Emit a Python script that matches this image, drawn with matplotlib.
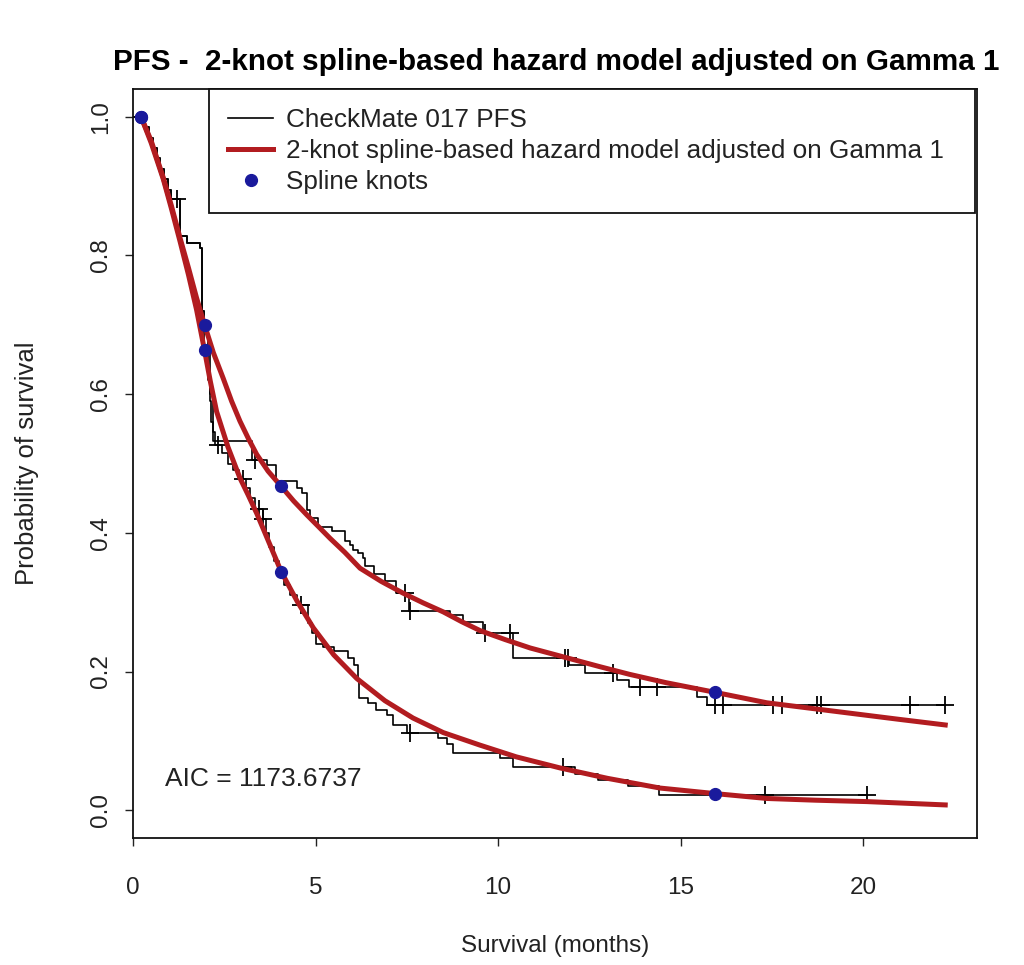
import matplotlib
matplotlib.use("Agg")
import matplotlib.pyplot as plt
from matplotlib.lines import Line2D

plt.rcParams['font.family'] = ['Liberation Sans', 'DejaVu Sans']

# ---- Kaplan-Meier curves (CheckMate 017 PFS) ----
km1_t = [0, 0.3, 0.45, 0.55, 0.65, 0.75, 0.85, 0.95, 1.05, 1.29, 1.48, 1.84, 1.88, 1.95, 2.05, 2.12, 2.2,
         3.26, 3.66, 3.93, 4.48, 4.62, 4.76, 4.85, 5.08, 5.44, 5.81, 5.95, 6.04, 6.17, 6.31, 6.36, 6.6, 6.9,
         7.2, 7.55, 8.68, 9.05, 9.6, 10.4, 11.95, 12.38, 13.25, 13.6, 15.45, 15.72, 22.25]
km1_s = [1.0, 0.985, 0.97, 0.955, 0.94, 0.925, 0.91, 0.895, 0.882, 0.828, 0.818, 0.811, 0.72, 0.70, 0.66, 0.60, 0.532,
         0.505, 0.498, 0.475, 0.465, 0.457, 0.433, 0.421, 0.409, 0.402, 0.388, 0.383, 0.375, 0.371, 0.364, 0.352, 0.34, 0.33,
         0.313, 0.287, 0.282, 0.272, 0.255, 0.219, 0.21, 0.198, 0.188, 0.178, 0.164, 0.152, 0.152]
cens1_t = [1.2, 3.34, 7.45, 7.59, 9.64, 10.33, 11.84, 11.92, 13.16, 13.89, 14.35, 15.95, 16.17, 17.54, 17.77,
           18.73, 18.86, 21.29, 22.25]
cens1_s = [0.882, 0.505, 0.313, 0.287, 0.255, 0.255, 0.219, 0.219, 0.198, 0.178, 0.178, 0.152, 0.152, 0.152, 0.152,
           0.152, 0.152, 0.152, 0.152]

km2_t = [0, 0.3, 0.45, 0.55, 0.65, 0.75, 0.85, 0.95, 1.05, 1.29, 1.48, 1.84, 1.88, 1.95, 2.05, 2.1, 2.15, 2.2, 2.25,
         2.45, 2.6, 2.75, 2.9, 3.1, 3.2, 3.35, 3.55, 3.65, 3.72, 3.85, 4.0, 4.15, 4.3, 4.5, 4.8, 4.9, 5.0, 5.2, 5.5, 5.9,
         6.05, 6.15, 6.2, 6.45, 6.67, 6.95, 7.13, 7.5, 8.35, 8.6, 8.77, 10.05, 10.4, 12.1, 12.75, 13.56, 14.4, 20.1]
km2_s = [1.0, 0.985, 0.97, 0.955, 0.94, 0.925, 0.91, 0.895, 0.882, 0.828, 0.818, 0.811, 0.72, 0.663, 0.62, 0.59, 0.56,
         0.545, 0.527, 0.515, 0.50, 0.49, 0.478, 0.465, 0.45, 0.435, 0.42, 0.40, 0.38, 0.36, 0.345, 0.325, 0.31, 0.296,
         0.27, 0.255, 0.24, 0.236, 0.229, 0.219, 0.21, 0.186, 0.162, 0.154, 0.145, 0.137, 0.123, 0.111, 0.104, 0.096,
         0.082, 0.075, 0.063, 0.053, 0.044, 0.035, 0.022, 0.022]
cens2_t = [2.34, 3.0, 3.45, 3.55, 4.6, 7.59, 11.79, 17.32, 20.1]
cens2_s = [0.527, 0.478, 0.435, 0.42, 0.296, 0.111, 0.063, 0.022, 0.022]

# ---- fitted 2-knot spline hazard model curves ----
fit1_t = [0.22, 0.5, 0.83, 1.05, 1.29, 1.52, 1.74, 1.96, 2.2, 2.47, 2.7, 2.93, 3.16, 3.39, 3.7, 4.06, 4.4, 4.76,
          5.1, 5.4, 5.8, 6.22, 6.8, 7.4, 7.95, 8.5, 9.0, 9.51, 10.2, 10.88, 11.8, 12.79, 13.6, 14.6, 15.95, 17.36,
          19.18, 21.0, 22.25]
fit1_s = [1.0, 0.965, 0.912, 0.872, 0.825, 0.782, 0.739, 0.70, 0.66, 0.623, 0.59, 0.561, 0.536, 0.513, 0.489, 0.467,
          0.446, 0.426, 0.408, 0.392, 0.372, 0.349, 0.33, 0.313, 0.299, 0.286, 0.272, 0.259, 0.246, 0.234, 0.221,
          0.207, 0.196, 0.184, 0.170, 0.155, 0.143, 0.131, 0.123]
fit2_t = [0.22, 0.5, 0.83, 1.05, 1.29, 1.52, 1.74, 1.96, 2.12, 2.29, 2.6, 2.93, 3.16, 3.39, 3.75, 4.06, 4.5, 4.94,
          5.5, 6.13, 6.9, 7.67, 8.5, 9.5, 10.5, 11.7, 13.0, 14.44, 15.95, 17.36, 18.7, 20.1, 22.25]
fit2_s = [1.0, 0.962, 0.91, 0.868, 0.82, 0.772, 0.722, 0.663, 0.618, 0.575, 0.524, 0.479, 0.454, 0.428, 0.383, 0.344,
          0.301, 0.263, 0.224, 0.19, 0.158, 0.133, 0.112, 0.094, 0.077, 0.061, 0.046, 0.032, 0.024, 0.017, 0.0145,
          0.0125, 0.0077]

knots1_t = [0.22, 1.96, 4.06, 15.95]
knots1_s = [1.0, 0.70, 0.467, 0.170]
knots2_t = [0.22, 1.96, 4.06, 15.95]
knots2_s = [1.0, 0.663, 0.344, 0.024]

x_ticks = [0, 5, 10, 15, 20]
y_ticks = [0.0, 0.2, 0.4, 0.6, 0.8, 1.0]
y_ticklabels = ["0.0", "0.2", "0.4", "0.6", "0.8", "1.0"]

title = "PFS -  2-knot spline-based hazard model adjusted on Gamma 1"
legend_labels = ["CheckMate 017 PFS", "2-knot spline-based hazard model adjusted on Gamma 1", "Spline knots"]
aic_text = "AIC = 1173.6737"

RED = '#B21C20'
BLUE = '#1A1A9C'

fig = plt.figure(figsize=(10.24, 9.65), dpi=100)
ax = fig.add_axes([133/1024, 1 - 838/965, 844/1024, 749/965])

for t, s in ((km1_t, km1_s), (km2_t, km2_s)):
    ax.step(t, s, where='post', color='black', lw=1.2, zorder=2)
ax.plot(cens1_t, cens1_s, ls='none', marker='+', ms=13, mew=1.3, color='black', zorder=2)
ax.plot(cens2_t, cens2_s, ls='none', marker='+', ms=13, mew=1.3, color='black', zorder=2)

ax.plot(fit1_t, fit1_s, color=RED, lw=3.6, zorder=3, solid_joinstyle='round')
ax.plot(fit2_t, fit2_s, color=RED, lw=3.6, zorder=3, solid_joinstyle='round')
ax.plot(knots1_t, knots1_s, ls='none', marker='o', ms=8.5, color=BLUE, zorder=4)
ax.plot(knots2_t, knots2_s, ls='none', marker='o', ms=8.5, color=BLUE, zorder=4)

ax.text(0.88, 0.045, aic_text, fontsize=19, color='#222222', ha='left', va='center')

ax.set_xlim(0, 23.12)
ax.set_ylim(-0.04, 1.04)
ax.set_xticks(x_ticks)
ax.set_xticklabels([str(v) for v in x_ticks])
ax.set_yticks(y_ticks)
ax.set_yticklabels(y_ticklabels, rotation=90, va='center')
ax.tick_params(direction='out', length=6, width=1.0, labelsize=17.5, colors='#222222')
ax.tick_params(axis='x', pad=22)
ax.tick_params(axis='y', pad=9)
for sp in ax.spines.values():
    sp.set_linewidth(1.3)
    sp.set_color('#111111')

ax.set_xlabel("Survival (months)", fontsize=17.5, color='#222222', labelpad=26)
ax.set_ylabel("Probability of survival", fontsize=18.5, color='#222222', labelpad=37)

fig.text(556/1024, 1 - 62/965, title, fontsize=21.3, fontweight='bold', ha='center', va='center')

handles = [Line2D([], [], color='black', lw=1.2),
           Line2D([], [], color=RED, lw=3.6),
           Line2D([], [], ls='none', marker='o', ms=8.5, color=BLUE)]
leg = ax.legend(handles, legend_labels, loc='upper left', bbox_to_anchor=(76/844, 1.0, 766/844, 0),
                mode='expand', frameon=True, fancybox=False, framealpha=1, edgecolor='#111111',
                fontsize=18.8, borderaxespad=0, borderpad=0.74, labelspacing=0.26, handlelength=1.7,
                handletextpad=0.5)
leg.get_frame().set_linewidth(1.3)
for txt in leg.get_texts():
    txt.set_color('#222222')

fig.savefig('out.png', dpi=100)
